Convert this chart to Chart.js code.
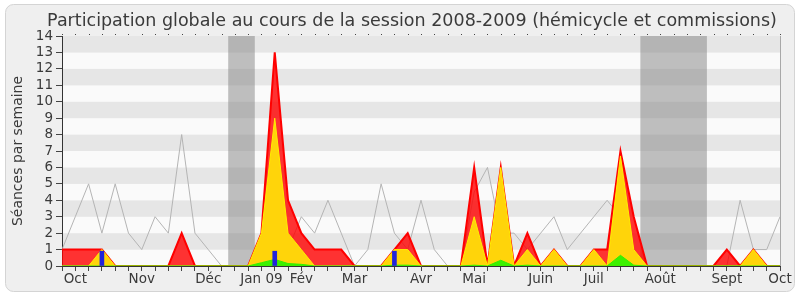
<!DOCTYPE html>
<html>
<head>
<meta charset="utf-8">
<script src="https://cdn.jsdelivr.net/npm/chart.js@4.4.0/dist/chart.umd.min.js"></script>
<style>
html, body { margin: 0; padding: 0; background: #fff; }
</style>
</head>
<body>
<canvas id="myChart" width="800" height="300"></canvas>
<script>
// mois affichés sous l'axe et semaine où ils tombent
var moisLabels = ['Oct', 'Nov', 'Déc', 'Jan 09', 'Fév', 'Mar', 'Avr', 'Mai', 'Juin', 'Juil', 'Août', 'Sept', 'Oct'];
var moisIndex = [1, 6, 11, 15, 18, 22, 27, 31, 36, 40, 45, 50, 54];
var nbSemaines = 55;
var titre = 'Participation globale au cours de la session 2008-2009 (hémicycle et commissions)';

// séances par semaine (rouge, jaune, vert, bleu) et médiane (gris)
var presences = [1, 1, 1, 1, 0, 0, 0, 0, 0, 2, 0, 0, 0, 0, 0, 2, 13, 4, 2, 1, 1, 1, 0, 0, 0, 1, 2, 0, 0, 0, 0, 6, 0, 6, 0, 2, 0, 1, 0, 0, 1, 1, 7, 3, 0, 0, 0, 0, 0, 0, 1, 0, 1, 0, 0];
var participations = [0, 0, 0, 1, 0, 0, 0, 0, 0, 0, 0, 0, 0, 0, 0, 2, 9, 2, 1, 0, 0, 0, 0, 0, 0, 1, 1, 0, 0, 0, 0, 3, 0, 6, 0, 1, 0, 1, 0, 0, 1, 0, 6.7, 1, 0, 0, 0, 0, 0, 0, 0, 0, 1, 0, 0];
var interventions = [0, 0, 0, 0, 0, 0, 0, 0, 0, 0, 0, 0, 0, 0, 0, 0.2, 0.4, 0.15, 0.1, 0, 0, 0, 0, 0, 0, 0.05, 0.05, 0, 0, 0, 0, 0.05, 0, 0.35, 0, 0.05, 0, 0, 0, 0, 0, 0, 0.65, 0.05, 0, 0, 0, 0, 0, 0, 0, 0, 0, 0, 0];
var questions = [null, null, null, 0.9, null, null, null, null, null, null, null, null, null, null, null, null, 0.9, null, null, null, null, null, null, null, null, 0.9, null, null, null, null, null, null, null, null, null, null, null, null, null, null, null, null, null, null, null, null, null, null, null, null, null, null, null, null, null];
var mediane = [1, 3, 5, 2, 5, 2, 1, 3, 2, 8, 2, 1, 0, 0, 0, 0, 2, 1, 3, 2, 4, 2, 0, 1, 5, 2, 1, 4, 1, 0, 0, 4.5, 6, 2, 2, 1, 2, 3, 1, 2, 3, 4, 3, 1, 0, 0, 0, 0, 0, 0, 0, 4, 1, 1, 3];

// vacances parlementaires (en semaines)
var vacances = [[12.5, 14.5], [43.5, 48.5]];

var labels = [];
for (var i = 0; i < nbSemaines; i++) labels.push('');
moisIndex.forEach(function (idx, k) { labels[idx] = moisLabels[k]; });

var decor = {
    id: 'decor',
    beforeDraw: function (chart) {
        var c = chart.ctx, a = chart.chartArea, x = chart.scales.x, y = chart.scales.y;
        c.save();
        c.fillStyle = '#fff';
        c.fillRect(0, 0, chart.width, chart.height);
        // cadre arrondi
        var fx = 5.5, fy = 4.5, fw = 789, fh = 287, r = 8;
        c.beginPath();
        c.moveTo(fx + r, fy);
        c.arcTo(fx + fw, fy, fx + fw, fy + fh, r);
        c.arcTo(fx + fw, fy + fh, fx, fy + fh, r);
        c.arcTo(fx, fy + fh, fx, fy, r);
        c.arcTo(fx, fy, fx + fw, fy, r);
        c.closePath();
        c.fillStyle = '#efefef';
        c.fill();
        c.strokeStyle = '#d4d4d4';
        c.stroke();
        // titre
        c.fillStyle = '#3a3a3a';
        c.font = '17.5px "DejaVu Sans"';
        c.textAlign = 'center';
        c.textBaseline = 'alphabetic';
        c.fillText(titre, 412, 26);
        // bandes horizontales
        for (var v = 0; v < 14; v++) {
            var t = y.getPixelForValue(v + 1), b = y.getPixelForValue(v);
            c.fillStyle = v % 2 ? '#e6e6e6' : '#fafafa';
            c.fillRect(a.left, t, a.right - a.left, b - t);
        }
        // vacances
        c.fillStyle = 'rgba(130,130,130,0.5)';
        vacances.forEach(function (p) {
            var x0 = x.getPixelForValue(p[0]), x1 = x.getPixelForValue(p[1]);
            c.fillRect(x0, a.top, x1 - x0, a.bottom - a.top);
        });
        c.restore();
    },
    afterDraw: function (chart) {
        var c = chart.ctx, a = chart.chartArea, x = chart.scales.x;
        c.save();
        c.fillStyle = '#444';
        for (var i = 0; i < nbSemaines; i++) {
            c.fillRect(Math.round(x.getPixelForTick(i)), a.top - 2, 1, 1);
        }
        c.strokeStyle = '#a8a8a8';
        c.beginPath();
        c.moveTo(Math.round(a.right) + 0.5, a.top);
        c.lineTo(Math.round(a.right) + 0.5, a.bottom);
        c.stroke();
        c.restore();
    }
};

var ctx = document.getElementById('myChart').getContext('2d');
var myChart = new Chart(ctx, {
    type: 'line',
    data: {
        labels: labels,
        datasets: [{
            type: 'bar',
            data: questions,
            backgroundColor: '#2323dc',
            barThickness: 4
        }, {
            data: interventions,
            borderColor: '#33ee00',
            backgroundColor: '#3cf000',
            borderWidth: 1,
            fill: 'origin'
        }, {
            data: participations,
            borderColor: '#ffee00',
            backgroundColor: '#ffd40a',
            borderWidth: 1,
            fill: 'origin'
        }, {
            data: presences,
            borderColor: '#ff0000',
            backgroundColor: 'rgba(255,0,0,0.8)',
            borderWidth: 2,
            fill: 'origin'
        }, {
            data: mediane,
            borderColor: '#b4b4b4',
            borderWidth: 1,
            fill: false
        }]
    },
    options: {
        responsive: false,
        animation: false,
        elements: {
            point: { radius: 0 },
            line: { tension: 0 }
        },
        layout: {
            padding: { left: 0, right: 20, top: 36, bottom: 0 }
        },
        plugins: {
            legend: { display: false },
            tooltip: { enabled: false },
            title: { display: false }
        },
        scales: {
            x: {
                offset: false,
                z: 1,
                grid: { offset: false, drawOnChartArea: false, tickLength: 5, color: '#444' },
                border: { color: '#333' },
                ticks: {
                    autoSkip: false,
                    maxRotation: 0,
                    minRotation: 0,
                    padding: 0,
                    color: '#3a3a3a',
                    font: { family: 'DejaVu Sans', size: 13.5 }
                },
                afterFit: function (scale) { scale.height = 34; }
            },
            y: {
                min: 0,
                max: 14,
                grid: { drawOnChartArea: false, tickLength: 6, color: '#444' },
                border: { color: '#333' },
                ticks: {
                    stepSize: 1,
                    autoSkip: false,
                    padding: 3,
                    color: '#3a3a3a',
                    font: { family: 'DejaVu Sans', size: 13.5 }
                },
                title: {
                    display: true,
                    text: 'Séances par semaine',
                    color: '#3a3a3a',
                    font: { family: 'DejaVu Sans', size: 14 },
                    padding: { top: 10, bottom: 0 }
                },
                afterFit: function (scale) { scale.width = 62; }
            }
        }
    },
    plugins: [decor]
});
</script>
</body>
</html>
